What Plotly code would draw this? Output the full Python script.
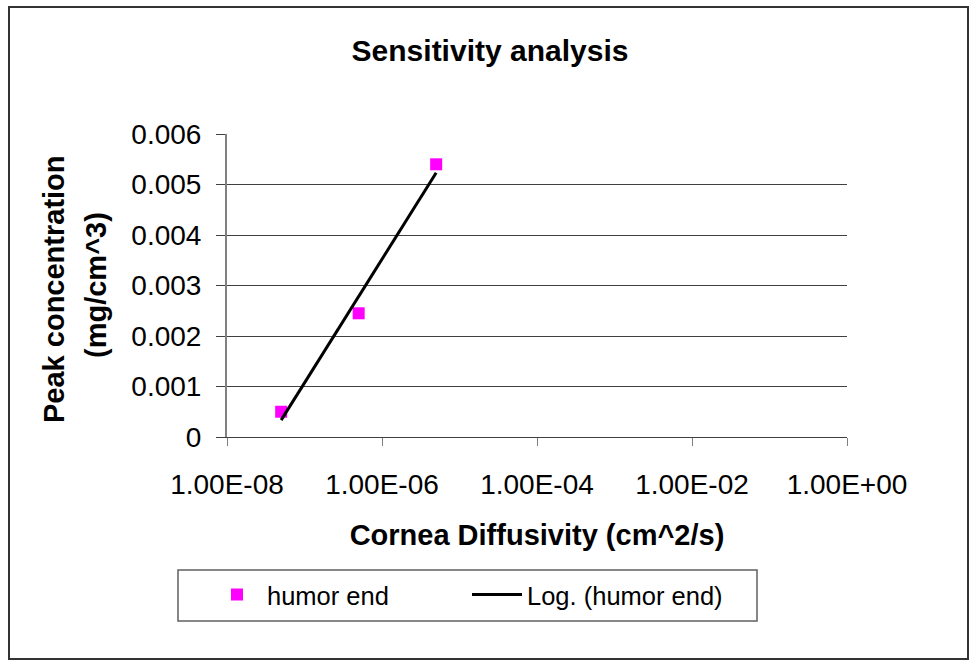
import numpy as np
import plotly.graph_objects as go

# ---- data ----
diffusivity = [5e-8, 5e-7, 5e-6]            # cm^2/s
peak_conc = [0.0005, 0.00245, 0.0054]       # mg/cm^3
series_name = "humor end"
trend_name = "Log. (humor end)"
x_tickvals = [1e-8, 1e-6, 1e-4, 1e-2, 1e0]
x_ticktext = ["1.00E-08", "1.00E-06", "1.00E-04", "1.00E-02", "1.00E+00"]
y_tickvals = [0, 0.001, 0.002, 0.003, 0.004, 0.005, 0.006]
y_ticktext = ["0", "0.001", "0.002", "0.003", "0.004", "0.005", "0.006"]

# logarithmic trendline (Excel-style: y = a*ln(x) + b), fitted to the data
a, b = np.polyfit(np.log(diffusivity), peak_conc, 1)
trend_x = [min(diffusivity), max(diffusivity)]
trend_y = [a * np.log(v) + b for v in trend_x]

W, H = 973, 666
L, R, T, B = 227, 847, 134, 437
pw, ph = R - L, B - T


def px(x):
    return (x - L) / pw


def py(y):
    return (B - y) / ph


FONT = "Liberation Sans, Arial, sans-serif"

fig = go.Figure()
fig.add_trace(go.Scatter(
    x=diffusivity, y=peak_conc, mode="markers", name=series_name,
    marker=dict(symbol="square", size=12, color="#FF00FF"),
))
fig.add_trace(go.Scatter(
    x=trend_x, y=trend_y, mode="lines", name=trend_name,
    line=dict(color="black", width=3),
))

fig.update_layout(
    width=W, height=H,
    margin=dict(l=L, r=W - R, t=T, b=H - B, autoexpand=False),
    paper_bgcolor="white", plot_bgcolor="white",
    font=dict(family=FONT, color="black", size=28),
    title=dict(text="<b>Sensitivity analysis</b>", x=490 / W, xanchor="center",
               y=1 - 50 / H, yanchor="middle", yref="container",
               font=dict(size=30, family=FONT)),
    showlegend=True,
    legend=dict(orientation="h", x=px(207), xanchor="left",
                y=py(595), yanchor="middle",
                bgcolor="rgba(0,0,0,0)", borderwidth=0,
                font=dict(size=25.5, family=FONT),
                itemwidth=50,
                entrywidth=195, entrywidthmode="pixels",
                traceorder="normal"),
    xaxis=dict(type="log", range=[-8, 0], tickvals=x_tickvals, ticktext=x_ticktext,
               showgrid=False, zeroline=False, showline=True, linecolor="#404040",
               linewidth=1, ticks="outside", ticklen=8, tickcolor="#808080",
               tickfont=dict(size=28), ticklabelstandoff=14,
               title=dict(text="<b>Cornea Diffusivity (cm^2/s)</b>",
                          font=dict(size=29), standoff=26)),
    yaxis=dict(range=[0, 0.006], tickvals=y_tickvals, ticktext=y_ticktext,
               showgrid=True, gridcolor="#404040", gridwidth=1, zeroline=False,
               showline=True, linecolor="#808080", linewidth=2, ticks="outside",
               ticklen=9, tickcolor="#404040", tickfont=dict(size=28),
               ticklabelstandoff=9),
)

fig.add_annotation(text="<b>Peak concentration</b>", textangle=-90,
                   x=px(54), y=py(289), xref="paper", yref="paper",
                   xanchor="center", yanchor="middle",
                   showarrow=False, font=dict(size=29, family=FONT))
fig.add_annotation(text="<b>(mg/cm^3)</b>", textangle=-90,
                   x=px(96), y=py(285), xref="paper", yref="paper",
                   xanchor="center", yanchor="middle",
                   showarrow=False, font=dict(size=29, family=FONT))

# legend frame
fig.add_shape(type="rect", xref="paper", yref="paper",
              x0=px(178), x1=px(757), y0=py(621), y1=py(570),
              line=dict(color="#606060", width=1.5), fillcolor="rgba(0,0,0,0)")
# outer chart frame
fig.add_shape(type="rect", xref="paper", yref="paper",
              x0=px(9), x1=px(968), y0=py(659), y1=py(7),
              line=dict(color="#333333", width=2), fillcolor="rgba(0,0,0,0)")

fig.write_html("out.html",
               config={"displayModeBar": False},
               post_script="document.body.style.margin='0';"
                           "document.body.style.overflow='hidden';")
